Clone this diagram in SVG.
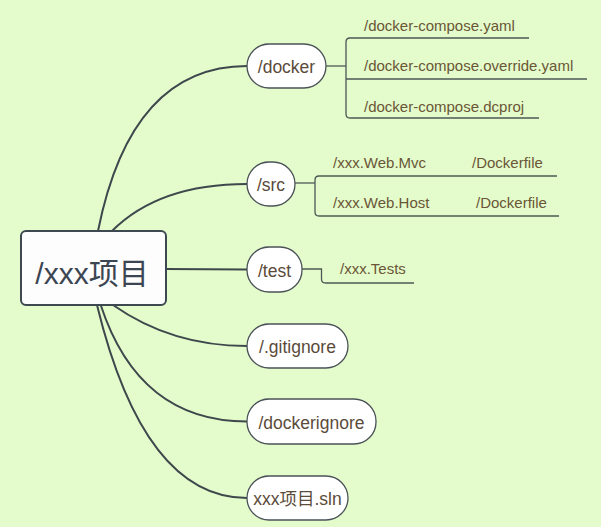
<svg xmlns="http://www.w3.org/2000/svg" width="601" height="527" viewBox="0 0 601 527">
<style>
.bg{fill:#e4fccc}
.main{fill:none;stroke:#3e484c;stroke-width:2}
.sub{fill:none;stroke:#4d5856;stroke-width:1.3}
.node{fill:#ffffff;stroke:#4a5257;stroke-width:1.3}
.root{fill:#fdfdfd;stroke:#3d4850;stroke-width:2}
.nt{font-family:"Liberation Sans",Arial,"Noto Sans CJK SC",sans-serif;font-size:17.5px;fill:#5b4b3a;text-anchor:middle}
.ct{font-family:"Liberation Sans",Arial,"Noto Sans CJK SC",sans-serif;font-size:15px;fill:#6a5636}
.rt{font-family:"Liberation Sans",Arial,"Noto Sans CJK SC",sans-serif;font-size:30px;fill:#3c4652;text-anchor:middle}
</style>
<rect class="bg" x="0" y="0" width="601" height="527"/>
<g id="connectors">
<path class="main" d="M98,231 Q131,66 247,66"/>
<path class="main" d="M112,231 Q159,184 247,184"/>
<path class="main" d="M166,269 L247,269.5"/>
<path class="main" d="M113,305 Q171.5,346 247,346"/>
<path class="main" d="M100.7,305 Q139,421.5 247,421.5"/>
<path class="main" d="M97,305 Q144,498 247,498"/>
<path class="sub" d="M326,66 H346"/>
<path class="sub" d="M529,38 H350 Q346,38 346,42 V114 Q346,118 350,118 H539"/>
<path class="sub" d="M346,79 H587"/>
<path class="sub" d="M295,183 H315"/>
<path class="sub" d="M557,176 H319 Q315,176 315,180 V212 Q315,216 319,216 H559"/>
<path class="sub" d="M302,269 H321.5 V279 Q321.5,283 325.5,283 H414"/>
</g>
<g id="root">
<rect class="root" x="21" y="231" width="145" height="74" rx="5"/>
<text class="rt" x="92" y="284">/xxx项目</text>
</g>
<g id="docker">
<rect class="node" x="247" y="44" width="79" height="44" rx="22"/>
<text class="nt" x="286.5" y="73">/docker</text>
</g>
<g id="src">
<rect class="node" x="247" y="162" width="48" height="44" rx="22"/>
<text class="nt" x="271" y="191">/src</text>
</g>
<g id="test">
<rect class="node" x="247" y="247" width="55" height="45" rx="22"/>
<text class="nt" x="274.5" y="276.5">/test</text>
</g>
<g id="gitignore">
<rect class="node" x="247" y="324" width="101" height="44" rx="22"/>
<text class="nt" x="297.5" y="353">/.gitignore</text>
</g>
<g id="dockerignore">
<rect class="node" x="247" y="399" width="129" height="45" rx="22"/>
<text class="nt" x="311.5" y="428.5">/dockerignore</text>
</g>
<g id="sln">
<rect class="node" x="247" y="476" width="101" height="44" rx="22"/>
<text class="nt" x="297.5" y="505">xxx项目.sln</text>
</g>
<g id="docker-children">
<text class="ct" x="364" y="31">/docker-compose.yaml</text>
<text class="ct" x="364" y="71">/docker-compose.override.yaml</text>
<text class="ct" x="364" y="112">/docker-compose.dcproj</text>
</g>
<g id="src-children">
<text class="ct" x="333" y="168">/xxx.Web.Mvc</text>
<text class="ct" x="472" y="168">/Dockerfile</text>
<text class="ct" x="333" y="208">/xxx.Web.Host</text>
<text class="ct" x="476" y="208">/Dockerfile</text>
</g>
<g id="test-children">
<text class="ct" x="340" y="274">/xxx.Tests</text>
</g>
</svg>
